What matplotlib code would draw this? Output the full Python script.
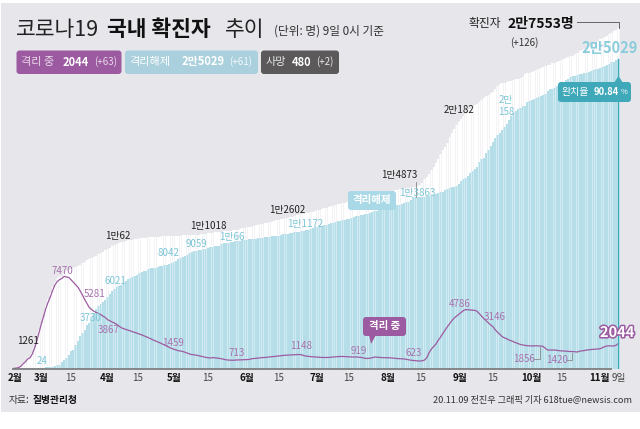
import numpy as np
import matplotlib
matplotlib.use("Agg")
import matplotlib.pyplot as plt
import matplotlib.patheffects as pe
from matplotlib.patches import FancyBboxPatch, Polygon, Rectangle

plt.rcParams['font.family'] = ['Noto Sans CJK KR', 'DejaVu Sans']

# daily values, 2020-02-18 to 2020-11-09
confirmed = [31, 51, 104, 204, 433, 602, 833, 977, 1261, 1766, 2337, 3150,
    3736, 4212, 5186, 5621, 6088, 6593, 7041, 7314, 7478, 7513, 7755, 7869, 7979, 8086, 8162, 8236, 8320, 8413, 8565, 8652, 8799, 8897, 8961, 9037, 9137, 9241, 9332, 9478, 9583, 9661, 9786,
    9887, 9976, 10062, 10156, 10237, 10284, 10331, 10384, 10423, 10450, 10480, 10512, 10537, 10564, 10591, 10613, 10635, 10653, 10661, 10674, 10683, 10694, 10702, 10708, 10718, 10728, 10738, 10752, 10761, 10765,
    10774, 10780, 10793, 10801, 10804, 10806, 10810, 10822, 10840, 10874, 10909, 10936, 10962, 10991, 11018, 11037, 11050, 11065, 11078, 11110, 11122, 11142, 11165, 11190, 11206, 11225, 11265, 11344, 11402, 11441, 11468,
    11503, 11541, 11590, 11629, 11668, 11719, 11776, 11814, 11852, 11902, 11947, 12003, 12051, 12085, 12121, 12155, 12198, 12257, 12306, 12373, 12421, 12438, 12484, 12535, 12563, 12602, 12653, 12715, 12757, 12800,
    12850, 12904, 12967, 13030, 13091, 13137, 13181, 13244, 13293, 13338, 13373, 13417, 13479, 13512, 13551, 13612, 13672, 13711, 13745, 13771, 13879, 13938, 13979, 14092, 14150, 14175, 14203, 14251, 14269, 14305, 14336,
    14366, 14389, 14423, 14456, 14499, 14519, 14562, 14598, 14626, 14660, 14686, 14714, 14770, 14873, 15039, 15318, 15515, 15761, 16058, 16346, 16670, 17002, 17399, 17665, 17945, 18265, 18706, 19077, 19400, 19699, 19947,
    20182, 20449, 20644, 20842, 21010, 21177, 21296, 21432, 21588, 21743, 21919, 22055, 22176, 22285, 22391, 22600, 22900, 23000, 23100, 23150, 23200, 23250, 23300, 23350, 23400, 23455, 23516, 23611, 23812, 23889,
    23947, 24027, 24091, 24164, 24239, 24353, 24422, 24476, 24548, 24606, 24703, 24751, 24805, 24889, 24988, 25035, 25108, 25199, 25275, 25333, 25424, 25543, 25698, 25775, 25836, 25955, 26043, 26146, 26271, 26385, 26511,
    26635, 26732, 26807, 26925, 27050, 27195, 27284, 27427, 27553]

released = [16, 18, 18, 22, 22, 22, 22, 22, 27,
    30, 30, 34, 41, 41, 118, 135, 135, 166, 247, 288, 333, 510, 714, 834, 1137, 1407, 1540, 1947, 2233, 2612, 2909, 3166, 3507, 3730, 4144, 4528, 4811, 5033, 5228, 5408,
    5567, 5828, 6021, 6325, 6463, 6598, 6694, 6776, 6973, 7117, 7243, 7368, 7447, 7534, 7616, 7757, 7829, 7868, 7937, 8042, 8114, 8127, 8186, 8233, 8277, 8322, 8374, 8411, 8501, 8564,
    8627, 8742, 8854, 8922, 9059, 9123, 9217, 9333, 9419, 9484, 9514, 9568, 9632, 9670, 9720, 9762, 9821, 9846, 9888, 9904, 9938, 10066, 10135, 10162, 10194, 10226, 10275, 10295, 10340, 10363, 10405,
    10422, 10446, 10467, 10491, 10506, 10531, 10552, 10589, 10611, 10654, 10669, 10691, 10718, 10730, 10760, 10770, 10856, 10881, 10908, 10930, 10974, 10990, 11020, 11060, 11082, 11117, 11172, 11198, 11229, 11317,
    11364, 11429, 11484, 11537, 11559, 11590, 11629, 11684, 11755, 11810, 11848, 11914, 11970, 12020, 12065, 12129, 12145, 12204, 12282, 12348, 12380, 12420, 12444, 12490, 12553, 12610, 12698, 12721, 12757, 12812, 12905,
    12959, 13007, 13049, 13066, 13133, 13183, 13214, 13280, 13352, 13402, 13450, 13497, 13642, 13863, 13870, 13880, 13890, 13901, 13917, 13934, 13976, 14006, 14063, 14122, 14219, 14280, 14325, 14440, 14523, 14606, 14674, 14714, 14772, 14903,
    15198, 15356, 15466, 15603, 15815, 15981, 16146, 16297, 16699, 16942, 17023, 17417, 17711, 18053, 18378, 18660, 18878, 19077, 19310, 19586, 19770, 20158, 20441, 20651, 20828, 20978, 21096, 21216, 21292, 21590,
    21666, 21727, 21811, 21888, 21983, 22052, 22104, 22263, 22470, 22594, 22650, 22731, 22863, 23010, 23082, 23186, 23334, 23468, 23582, 23660, 23717, 23762, 23812, 23834, 23905, 23960, 24029, 24091, 24168, 24234, 24270,
    24353, 24395, 24467, 24537, 24673, 24777, 24834, 24967, 25029]

isolated = [28, 46, 90, 190, 400, 560, 780, 880, 1180, 1650, 2230, 2950,
    3640, 4250, 4900, 5400, 5850, 6350, 6800, 7060, 7210, 7300, 7470, 7420, 7380, 7200, 7000, 6800, 6600, 6300, 5960, 5600, 5280, 4950, 4780, 4650, 4550, 4480, 4380, 4250, 4150, 3970, 3870,
    3780, 3700, 3590, 3450, 3320, 3240, 3180, 3120, 3060, 2990, 2930, 2870, 2800, 2740, 2660, 2580, 2500, 2420, 2320, 2250, 2170, 2090, 2000, 1930, 1820, 1730, 1650, 1580, 1520, 1460,
    1430, 1390, 1330, 1260, 1190, 1140, 1120, 1090, 1050, 1010, 960, 920, 890, 860, 900, 880, 860, 840, 800, 760, 720, 700, 690, 680, 700, 710, 713, 720, 730, 740, 745,
    800, 820, 840, 860, 880, 900, 910, 930, 950, 970, 990, 1010, 1030, 1050, 1070, 1090, 1100, 1110, 1120, 1130, 1140, 1148, 1130, 1060, 1020, 1000, 980, 960, 950, 940,
    920, 906, 905, 900, 910, 930, 950, 960, 980, 990, 990, 980, 970, 960, 950, 950, 945, 930, 919, 880, 835, 830, 850, 880, 945, 930, 910, 900, 890, 885, 880,
    880, 860, 840, 820, 810, 800, 790, 760, 720, 690, 670, 650, 630, 623, 640, 700, 900, 1300, 1600, 1800, 2000, 2300, 2550, 2850, 3130, 3400, 3650, 3900, 4100, 4250, 4400,
    4560, 4700, 4786, 4770, 4750, 4740, 4720, 4650, 4450, 4250, 4050, 3880, 3700, 3535, 3400, 3146, 2950, 2780, 2600, 2500, 2420, 2320, 2260, 2180, 2100, 2030, 1960, 1920, 1890, 1860,
    1850, 1840, 1850, 1856, 1840, 1840, 1790, 1640, 1510, 1510, 1510, 1510, 1490, 1460, 1440, 1430, 1420, 1400, 1390, 1380, 1370, 1350, 1420, 1440, 1470, 1510, 1530, 1550, 1570, 1580, 1590,
    1620, 1700, 1790, 1840, 1850, 1840, 1840, 1900, 2044]

month_labels = ['2월', '3월', '15', '4월', '15', '5월', '15', '6월', '15', '7월', '15', '8월', '15', '9월', '15', '10월', '15', '11월', '9일']
month_x = [15, 41, 71, 107, 138, 174, 208, 247, 279, 317, 349, 388, 421, 460, 493, 531, 562, 600, 619]

days = np.arange(len(confirmed))
PURPLE = '#9c5ba0'
CYAN = '#b6dee9'
LABEL_CYAN = '#7cc5d6'
LABEL_PURPLE = '#a871ad'
TEAL = '#3fa9ba'

fig = plt.figure(figsize=(6.4, 4.29), dpi=100, facecolor='white')

# overlay in pixel coords for the background and the annotations
bg = fig.add_axes([0, 0, 1, 1], zorder=0)
bg.set_xlim(0, 640)
bg.set_ylim(429, 0)
bg.axis('off')
bg.add_patch(Rectangle((1, 3), 639, 409, color='#e6e6eb', lw=0))

# 1 day = 2.281 px, first day at x = 14, baseline at y = 368.7
left, right, top, base = 12, 620, 20, 368.7
ax = fig.add_axes([left/640, 1-base/429, (right-left)/640, (base-top)/429], zorder=1)
ax.patch.set_alpha(0)
ax.set_xlim((left-14)/2.281, (right-14)/2.281)
ax.set_ylim(0, (base-top)/0.01236)
ax.axis('off')
ax.bar(days, confirmed, width=1.0, color='#f3f3f6', lw=0)
ax.bar(days, confirmed, width=0.72, color='white', lw=0)
ax.bar(days, released, width=1.0, color='#d2ebf2', lw=0)
ax.bar(days, released, width=0.72, color=CYAN, lw=0)
ax.plot(days, isolated, color=PURPLE, lw=0.9, solid_joinstyle='round')
ax.plot([days[-1], days[-1]], [0, released[-1]], color=TEAL, lw=1.0)

fg = fig.add_axes([0, 0, 1, 1], zorder=2)
fg.set_xlim(0, 640)
fg.set_ylim(429, 0)
fg.axis('off')
fg.patch.set_alpha(0)


def txt(x, y, s, size=7, color='#222222', weight='normal', ha='center', **kw):
    return fg.text(x, y, s, fontsize=size, color=color, fontweight=weight, ha=ha, va='center', **kw)


def tag(x0, y0, x1, y1, color):
    fg.add_patch(FancyBboxPatch((x0+2, y0+2), x1-x0-4, y1-y0-4, boxstyle='round,pad=2,rounding_size=3',
                                fc=color, ec='none'))


fg.plot([12, 612], [369, 369], color='#777777', lw=1.2, solid_capstyle='butt')

# title
txt(16, 30, '코로나19', 15.5, '#222222', ha='left')
txt(107, 30, '국내 확진자', 15.5, '#111111', 'bold', ha='left')
txt(225, 30, '추이', 15.5, '#222222', ha='left')
txt(274, 31, '(단위: 명) 9일 0시 기준', 8.4, '#333333', ha='left')

# legend tags
tag(16.5, 50.5, 121.5, 74, PURPLE)
txt(21, 62, '격리 중', 8, '#e8d8ea', ha='left')
txt(63, 62, '2044', 8, 'white', 'bold', ha='left')
txt(94, 62, '(+63)', 7, '#e8d8ea', ha='left')
tag(125, 50.5, 258, 74, '#a9d0dc')
txt(129, 62, '격리해제', 8, 'white', ha='left')
txt(182, 62, '2만5029', 8, 'white', 'bold', ha='left')
txt(229, 62, '(+61)', 7, '#f3fafc', ha='left')
tag(261, 50.5, 339, 74, '#5b595a')
txt(266, 62, '사망', 8, '#e8e8e8', ha='left')
txt(292, 62, '480', 8, 'white', 'bold', ha='left')
txt(316, 62, '(+2)', 7, '#e8e8e8', ha='left')

# total
txt(469, 24, '확진자', 8.5, '#222222', ha='left')
txt(507, 24, '2만7553명', 10, '#111111', 'bold', ha='left')
txt(524, 43, '(+126)', 7, '#333333')
fg.plot([577, 618.5, 618.5], [22, 22, 28], color='#666666', lw=0.7)
txt(610, 48, '2만5029', 10.5, '#8accdc', 'bold')

# recovery rate callout
tag(558, 82, 631, 102, TEAL)
fg.add_patch(Polygon([[614, 83], [618.5, 76], [623, 83]], color=TEAL, lw=0))
txt(562, 92, '완치율', 7.2, 'white', ha='left')
txt(594, 92, '90.84', 6.8, 'white', 'bold', ha='left')
txt(621, 92, '%', 5.4, 'white', ha='left')

# black labels (confirmed)
for x, y, s in [(28, 341, '1261'), (118, 236, '1만62'), (208, 226, '1만1018'),
                (287, 210, '1만2602'), (399, 175, '1만4873'), (459, 110, '2만182')]:
    txt(x, y, s, 7, '#222222')
fg.plot([416, 416], [182, 197], color='#888888', lw=0.6)

# cyan labels (released)
for x, y, s in [(42, 361, '24'), (91, 318, '3730'), (115, 281, '6021'), (168, 253, '8042'),
                (196, 244, '9059'), (232, 237, '1만66'), (305, 224, '1만1172'), (417, 193, '1만3863')]:
    txt(x, y, s, 7, LABEL_CYAN)
txt(506, 100, '2만', 7, LABEL_CYAN)
txt(506, 112, '158', 7, LABEL_CYAN)

# purple labels (in isolation)
for x, y, s in [(62, 271, '7470'), (95, 294, '5281'), (109, 330, '3867'), (173, 343, '1459'),
                (237, 353, '713'), (301, 346, '1148'), (359, 351, '919'), (414, 353, '623'),
                (460, 304, '4786'), (495, 317, '3146'), (524, 359, '1856'), (557, 360, '1420')]:
    txt(x, y, s, 7, LABEL_PURPLE)
fg.plot([534, 540, 540], [359, 359, 347], color='#888888', lw=0.6)
fg.plot([567, 572, 572], [360, 360, 353], color='#888888', lw=0.6)

# inline tags
tag(348, 191, 396, 210, '#a9d8e6')
txt(372, 200, '격리해제', 7.5, 'white', 'bold')
tag(363, 317, 406, 336, PURPLE)
fg.add_patch(Polygon([[369, 335], [371, 344], [376, 335]], color=PURPLE, lw=0))
txt(384.5, 326, '격리 중', 7.5, 'white', 'bold')

t = txt(617, 332, '2044', 10.5, 'white', 'bold')
t.set_path_effects([pe.withStroke(linewidth=2.2, foreground=PURPLE)])

# x axis labels
for x, s in zip(month_x, month_labels):
    txt(x, 378, s, 7, '#444444' if s in ('15', '9일') else '#111111', 'normal' if s in ('15', '9일') else 'bold')

# footer
txt(9, 400, '자료:', 7, '#333333', ha='left')
txt(33, 400, '질병관리청', 7, '#111111', 'bold', ha='left')
txt(632, 400, '20.11.09 전진우 그래픽 기자 618tue@newsis.com', 6.6, '#333333', ha='right')

fig.savefig('out.png', dpi=100)
